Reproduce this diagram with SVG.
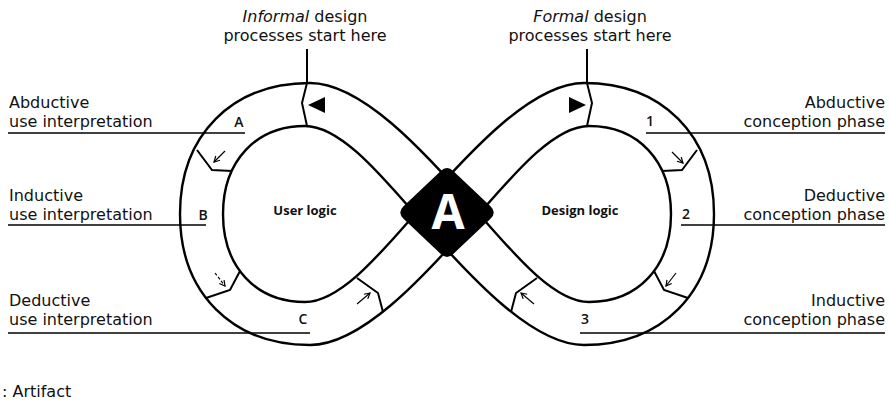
<svg xmlns="http://www.w3.org/2000/svg" width="890" height="415" viewBox="0 0 890 415">
<style>
.band{fill:none;stroke:#000;stroke-width:2.4;stroke-linejoin:round}
.div{fill:none;stroke:#000;stroke-width:2;stroke-linejoin:miter}
.lead{fill:none;stroke:#000;stroke-width:1.5}
.arr{fill:none;stroke:#000;stroke-width:1.2;marker-end:url(#open)}
.lbl{font-family:"DejaVu Sans","Liberation Sans",sans-serif;font-size:16px;fill:#111}
.r{text-anchor:end}
.c{text-anchor:middle}
.let{font-family:"Open Sans","Liberation Sans",sans-serif;font-size:14px;font-weight:600;fill:#111;text-anchor:middle}
.node{font-family:"Open Sans","Liberation Sans",sans-serif;font-size:13px;font-weight:bold;fill:#111;text-anchor:middle}
</style>
<defs>
<marker id="open" markerUnits="userSpaceOnUse" markerWidth="8" markerHeight="8" refX="6" refY="3.5" orient="auto">
<path d="M0.5,0.5 L6,3.5 L0.5,6.5" fill="none" stroke="#000" stroke-width="1.2"/>
</marker>
</defs>
<rect width="890" height="415" fill="#fff"/>

<g id="connectors">
<path class="band" d="M479,214 C420,146 360,83 310,83 C232,83 180,135 180,214 C180,293 232,345 310,345 C360,345 420,282 479,214 C514,174 554,126 589,126 C638,126 671,161 671,214 C671,267 638,302 589,302 C554,302 514,254 479,214 Z"/>
<path class="band" d="M415,214 C474,146 534,83 584,83 C662,83 714,135 714,214 C714,293 662,345 584,345 C534,345 474,282 415,214 C380,174 340,126 305,126 C256,126 223,161 223,214 C223,267 256,302 305,302 C340,302 380,254 415,214 Z"/>

<path class="div" d="M307,49 L307,83 L302,103 L307,126"/>
<path class="div" d="M197,150 L212,170 L232,171"/>
<path class="div" d="M206,298 L230,290 L240,271"/>
<path class="div" d="M383,312 L378,293 L357,278"/>

<path class="div" d="M587,49 L587,83 L592,103 L587,126"/>
<path class="div" d="M697,150 L682,170 L662,171"/>
<path class="div" d="M688,298 L664,290 L654,271"/>
<path class="div" d="M511,312 L516,293 L537,278"/>

<polygon points="308,105 325,97 325,113" fill="#000"/>
<polygon points="586,105 569,97 569,113" fill="#000"/>

<line class="arr" x1="225" y1="151" x2="214" y2="162"/>
<line class="arr" x1="215" y1="273" x2="225" y2="286" stroke-dasharray="3 2"/>
<line class="arr" x1="357" y1="304" x2="370" y2="293"/>
<line class="arr" x1="672" y1="152" x2="683" y2="163"/>
<line class="arr" x1="676" y1="273" x2="666" y2="286"/>
<line class="arr" x1="534" y1="304" x2="521" y2="293"/>

<line class="lead" x1="8" y1="133" x2="245" y2="133"/>
<line class="lead" x1="8" y1="225" x2="206" y2="225"/>
<line class="lead" x1="8" y1="333" x2="310" y2="333"/>
<line class="lead" x1="646" y1="133" x2="885" y2="133"/>
<line class="lead" x1="681" y1="225" x2="885" y2="225"/>
<line class="lead" x1="580" y1="333" x2="885" y2="333"/>
</g>

<g id="artifact">
<path d="M453.5,171.2 L490.5,206.3 Q497,212.5 490.5,218.7 L453.5,253.8 Q447,260 440.5,253.8 L403.5,218.7 Q397,212.5 403.5,206.3 L440.5,171.2 Q447,165 453.5,171.2 Z" fill="#000"/>
<text x="448" y="229" font-family="'Open Sans','Liberation Sans',sans-serif" font-size="48" font-weight="bold" fill="#fff" text-anchor="middle">A</text>
</g>

<g id="user-logic"><text class="node" x="305" y="215">User logic</text></g>
<g id="design-logic"><text class="node" x="580" y="215">Design logic</text></g>

<g id="informal-start">
<text class="lbl c" x="305" y="22"><tspan font-style="italic">Informal</tspan> design</text>
<text class="lbl c" x="305" y="41">processes start here</text>
</g>
<g id="formal-start">
<text class="lbl c" x="590" y="22"><tspan font-style="italic">Formal</tspan> design</text>
<text class="lbl c" x="590" y="41">processes start here</text>
</g>

<g id="phase-A">
<text class="lbl" x="9" y="108">Abductive</text>
<text class="lbl" x="9" y="127">use interpretation</text>
<text class="let" x="239" y="127">A</text>
</g>
<g id="phase-B">
<text class="lbl" x="9" y="201">Inductive</text>
<text class="lbl" x="9" y="220">use interpretation</text>
<text class="let" x="203" y="220">B</text>
</g>
<g id="phase-C">
<text class="lbl" x="9" y="306">Deductive</text>
<text class="lbl" x="9" y="325">use interpretation</text>
<text class="let" x="303" y="324">C</text>
</g>
<g id="phase-1">
<text class="lbl r" x="885" y="108">Abductive</text>
<text class="lbl r" x="885" y="127">conception phase</text>
<text class="let" x="650" y="126">1</text>
</g>
<g id="phase-2">
<text class="lbl r" x="885" y="201">Deductive</text>
<text class="lbl r" x="885" y="220">conception phase</text>
<text class="let" x="686" y="219">2</text>
</g>
<g id="phase-3">
<text class="lbl r" x="885" y="306">Inductive</text>
<text class="lbl r" x="885" y="325">conception phase</text>
<text class="let" x="585" y="324">3</text>
</g>

<g id="legend"><text class="lbl" x="2" y="397">: Artifact</text></g>
</svg>
